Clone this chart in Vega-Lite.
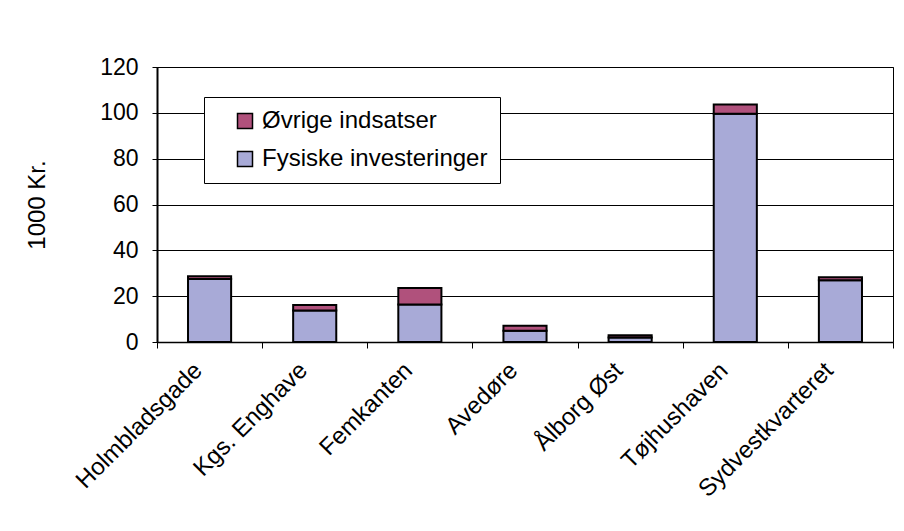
{
  "$schema": "https://vega.github.io/schema/vega-lite/v6.json",
  "width": 736,
  "height": 275,
  "autosize": {"type": "none"},
  "padding": {"left": 157, "top": 67, "right": 11, "bottom": 189},
  "background": "white",
  "config": {
    "font": "Liberation Sans",
    "view": {"stroke": "black", "strokeWidth": 1},
    "axis": {"labelColor": "black", "titleColor": "black", "labelFont": "Liberation Sans", "titleFont": "Liberation Sans"}
  },
  "data": {
    "values": [
      {"omraade": "Holmbladsgade", "type": "Fysiske investeringer", "ord": 1, "vaerdi": 27.5},
      {"omraade": "Holmbladsgade", "type": "Øvrige indsatser", "ord": 2, "vaerdi": 1.2},
      {"omraade": "Kgs. Enghave", "type": "Fysiske investeringer", "ord": 1, "vaerdi": 13.7},
      {"omraade": "Kgs. Enghave", "type": "Øvrige indsatser", "ord": 2, "vaerdi": 2.5},
      {"omraade": "Femkanten", "type": "Fysiske investeringer", "ord": 1, "vaerdi": 16.4},
      {"omraade": "Femkanten", "type": "Øvrige indsatser", "ord": 2, "vaerdi": 7.2},
      {"omraade": "Avedøre", "type": "Fysiske investeringer", "ord": 1, "vaerdi": 4.9},
      {"omraade": "Avedøre", "type": "Øvrige indsatser", "ord": 2, "vaerdi": 2.2},
      {"omraade": "Ålborg Øst", "type": "Fysiske investeringer", "ord": 1, "vaerdi": 2.0},
      {"omraade": "Ålborg Øst", "type": "Øvrige indsatser", "ord": 2, "vaerdi": 1.0},
      {"omraade": "Tøjhushaven", "type": "Fysiske investeringer", "ord": 1, "vaerdi": 99.6},
      {"omraade": "Tøjhushaven", "type": "Øvrige indsatser", "ord": 2, "vaerdi": 4.0},
      {"omraade": "Sydvestkvarteret", "type": "Fysiske investeringer", "ord": 1, "vaerdi": 27.0},
      {"omraade": "Sydvestkvarteret", "type": "Øvrige indsatser", "ord": 2, "vaerdi": 1.3}
    ]
  },
  "mark": {"type": "bar", "width": {"band": 0.41}, "stroke": "black", "strokeWidth": 2},
  "encoding": {
    "x": {
      "field": "omraade",
      "type": "nominal",
      "sort": null,
      "scale": {"paddingInner": 0, "paddingOuter": 0},
      "axis": {
        "title": null,
        "labelAngle": -45,
        "labelFontSize": 24,
        "labelPadding": 10,
        "labelOffset": -20,
        "tickBand": "extent",
        "tickSize": 6,
        "tickColor": "black",
        "domainColor": "black",
        "domainWidth": 1.5,
        "labelLimit": 300
      }
    },
    "y": {
      "field": "vaerdi",
      "type": "quantitative",
      "stack": "zero",
      "scale": {"domain": [0, 120], "nice": false},
      "axis": {
        "title": "1000 Kr.",
        "titleFontSize": 24,
        "titleFontWeight": "normal",
        "titlePadding": 50,
        "values": [0, 20, 40, 60, 80, 100, 120],
        "labelFontSize": 23,
        "labelPadding": 14,
        "tickSize": 5,
        "tickColor": "black",
        "domainColor": "black",
        "domainWidth": 2,
        "grid": true,
        "gridColor": "black",
        "gridWidth": 1
      }
    },
    "color": {
      "field": "type",
      "type": "nominal",
      "scale": {"domain": ["Øvrige indsatser", "Fysiske investeringer"], "range": ["#B0517C", "#A8AAD7"]},
      "legend": {
        "title": null,
        "orient": "none",
        "legendX": 47,
        "legendY": 30,
        "direction": "vertical",
        "fillColor": "white",
        "strokeColor": "black",
        "padding": 12,
        "symbolOffset": 17,
        "symbolType": "square",
        "symbolSize": 225,
        "symbolStrokeColor": "black",
        "symbolStrokeWidth": 1.5,
        "labelFontSize": 24,
        "labelColor": "black",
        "labelOffset": 5,
        "rowPadding": 14,
        "labelLimit": 400
      }
    },
    "order": {"field": "ord", "type": "quantitative"}
  }
}
